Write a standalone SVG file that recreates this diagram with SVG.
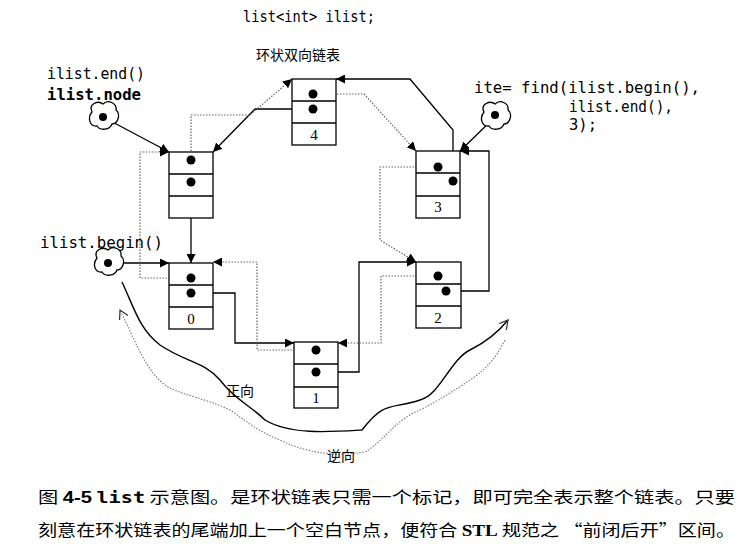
<svg xmlns="http://www.w3.org/2000/svg" width="750" height="549" viewBox="0 0 750 549">
<defs>
<marker id="a" viewBox="0 0 10 10" refX="10" refY="5" markerWidth="9" markerHeight="9" markerUnits="userSpaceOnUse" orient="auto"><path d="M0,0L10,5L0,10z" fill="#000"/></marker>
<marker id="o" viewBox="0 0 10 10" refX="9" refY="5" markerWidth="10" markerHeight="10" markerUnits="userSpaceOnUse" orient="auto"><path d="M0,0L9,5L0,10" fill="none" stroke="#333" stroke-width="1.2"/></marker>
</defs>
<style>
.box{fill:#fff;stroke:#000;stroke-width:1.3}
.dot{fill:#000}
.s{fill:none;stroke:#000;stroke-width:1.3}
.d{fill:none;stroke:#666;stroke-width:1.2;stroke-dasharray:1.5 1.5}
.mono{font-family:"DejaVu Sans Mono",monospace;font-size:15px}
.cn{font-family:"Noto Sans CJK SC",sans-serif;font-size:14px}
.num{font-family:"Liberation Serif",serif;font-size:15px;text-anchor:middle}
.cloud{fill:#fff;stroke:#000;stroke-width:1.3}
</style>
<rect width="750" height="549" fill="#fff"/>
<text x="243" y="22" class="mono" textLength="132" lengthAdjust="spacingAndGlyphs">list&lt;int&gt; ilist;</text>
<text x="256" y="60" class="cn">环状双向链表</text>
<text x="47" y="79" class="mono" textLength="98" lengthAdjust="spacingAndGlyphs">ilist.end()</text>
<text x="47" y="100" class="mono" font-weight="bold" textLength="94" lengthAdjust="spacingAndGlyphs">ilist.node</text>
<text x="474" y="93" class="mono" textLength="226" lengthAdjust="spacingAndGlyphs">ite= find(ilist.begin(),</text>
<text x="569" y="112" class="mono" textLength="104" lengthAdjust="spacingAndGlyphs">ilist.end(),</text>
<text x="569" y="130" class="mono" textLength="28" lengthAdjust="spacingAndGlyphs">3);</text>
<text x="40" y="248" class="mono" textLength="123" lengthAdjust="spacingAndGlyphs">ilist.begin()</text>
<g id="connectors">
<path class="s" d="M191,182V263" marker-end="url(#a)"/>
<path class="s" d="M191,293H235V343H294" marker-end="url(#a)"/>
<path class="s" d="M316,372H359V262H416" marker-end="url(#a)"/>
<path class="s" d="M446,291H489V151H460" marker-end="url(#a)"/>
<path class="s" d="M453,181V130L410,79H336" marker-end="url(#a)"/>
<path class="s" d="M313,109H255L213,152" marker-end="url(#a)"/>
<path class="s" d="M103,117L169,152" marker-end="url(#a)"/>
<path class="s" d="M108,263H169" marker-end="url(#a)"/>
<path class="s" d="M495,117L460,151" marker-end="url(#a)"/>
<path class="d" d="M191,278H140V152H169" marker-end="url(#a)"/>
<path class="d" d="M191,160V115H250L292,79" marker-end="url(#a)"/>
<path class="d" d="M313,94H364L416,151" marker-end="url(#a)"/>
<path class="d" d="M438,167H380V240L416,262" marker-end="url(#a)"/>
<path class="d" d="M438,276H381V343H338" marker-end="url(#a)"/>
<path class="d" d="M316,350H257V262H213" marker-end="url(#a)"/>
<path d="M122,282C135,310 140,330 160,345C185,362 205,362 220,380C235,400 250,405 265,420C290,435 330,432 362,430C385,400 390,410 420,400C440,395 450,360 470,350C490,340 500,330 508,320" fill="none" stroke="#000" stroke-width="1.4" marker-end="url(#o)"/>
<path d="M505,340C495,360 485,370 470,380C455,390 440,400 420,410C395,420 385,440 365,452C330,458 300,450 280,440C255,430 245,420 230,410C205,398 180,395 165,385C145,370 135,340 120,310" fill="none" stroke="#777" stroke-width="1.1" stroke-dasharray="1.5 1.5" marker-end="url(#o)"/>
</g>
<g id="node4"><rect class="box" x="292" y="79" width="44" height="66"/><path class="s" d="M292,101H336M292,123H336"/><circle class="dot" cx="313" cy="94" r="4.5"/><circle class="dot" cx="313" cy="109" r="4.5"/><text x="314" y="140" class="num">4</text></g>
<g id="nodeEnd"><rect class="box" x="169" y="152" width="44" height="66"/><path class="s" d="M169,174H213M169,196H213"/><circle class="dot" cx="191" cy="160" r="4.5"/><circle class="dot" cx="191" cy="182" r="4.5"/></g>
<g id="node0"><rect class="box" x="169" y="263" width="44" height="66"/><path class="s" d="M169,285H213M169,307H213"/><circle class="dot" cx="191" cy="278" r="4.5"/><circle class="dot" cx="191" cy="293" r="4.5"/><text x="191" y="324" class="num">0</text></g>
<g id="node1"><rect class="box" x="294" y="342" width="44" height="66"/><path class="s" d="M294,364H338M294,387H338"/><circle class="dot" cx="316" cy="350" r="4.5"/><circle class="dot" cx="316" cy="372" r="4.5"/><text x="316" y="403" class="num">1</text></g>
<g id="node2"><rect class="box" x="416" y="262" width="45" height="66"/><path class="s" d="M416,284H461M416,306H461"/><circle class="dot" cx="438" cy="276" r="4.5"/><circle class="dot" cx="446" cy="291" r="4.5"/><text x="438" y="323" class="num">2</text></g>
<g id="node3"><rect class="box" x="416" y="151" width="44" height="67"/><path class="s" d="M416,173H460M416,196H460"/><circle class="dot" cx="438" cy="167" r="4.5"/><circle class="dot" cx="453" cy="181" r="4.5"/><text x="438" y="212" class="num">3</text></g>
<g id="cloudEnd"><path class="cloud" d="M92,112C88,104 98,100 103,104C108,99 117,103 116,110C121,114 118,124 112,124C110,130 100,131 97,126C90,127 87,118 92,112Z"/><circle class="dot" cx="103" cy="117" r="4"/></g>
<g id="cloudBegin"><path class="cloud" d="M97,258C93,250 103,246 108,250C113,245 122,249 121,256C126,260 123,270 117,270C115,276 105,277 102,272C95,273 92,264 97,258Z"/><circle class="dot" cx="108" cy="263" r="4"/></g>
<g id="cloudIte"><path class="cloud" d="M484,112C480,104 490,100 495,104C500,99 509,103 508,110C513,114 510,124 504,124C502,130 492,131 489,126C482,127 479,118 484,112Z"/><circle class="dot" cx="495" cy="115" r="4"/></g>
<text x="226" y="396" class="cn" font-size="13">正向</text>
<text x="327" y="461" class="cn" font-size="13">逆向</text>
<text x="38" y="503" font-family="Noto Sans CJK SC,sans-serif" font-size="16" textLength="697" lengthAdjust="spacingAndGlyphs">图 <tspan font-weight="bold" font-family="Liberation Sans,sans-serif">4-5</tspan>  <tspan font-family="DejaVu Sans Mono,monospace" font-weight="bold">list</tspan> 示意图。是环状链表只需一个标记，即可完全表示整个链表。只要</text>
<text x="38" y="536" font-family="Noto Sans CJK SC,sans-serif" font-size="16" textLength="697" lengthAdjust="spacingAndGlyphs">刻意在环状链表的尾端加上一个空白节点，便符合 <tspan font-family="Liberation Serif,serif" font-weight="bold">STL</tspan> 规范之 “前闭后开”区间。</text>
</svg>
